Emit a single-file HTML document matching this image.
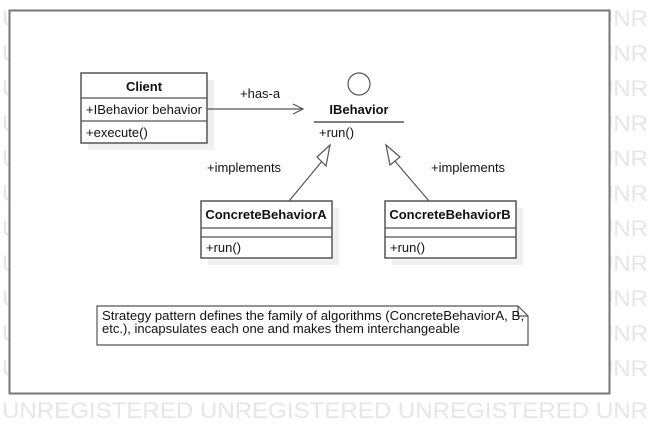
<!DOCTYPE html>
<html><head><style>body{margin:0;background:#fff}svg{display:block}</style></head><body>
<svg width="650" height="434" viewBox="0 0 650 434" xmlns="http://www.w3.org/2000/svg" font-family="Liberation Sans, sans-serif">
<g fill="#e6e6e6" font-size="22">
<text x="2" y="26" textLength="646" lengthAdjust="spacingAndGlyphs">UNREGISTERED UNREGISTERED UNREGISTERED UNR</text>
<text x="2" y="61" textLength="646" lengthAdjust="spacingAndGlyphs">UNREGISTERED UNREGISTERED UNREGISTERED UNR</text>
<text x="2" y="96" textLength="646" lengthAdjust="spacingAndGlyphs">UNREGISTERED UNREGISTERED UNREGISTERED UNR</text>
<text x="2" y="131" textLength="646" lengthAdjust="spacingAndGlyphs">UNREGISTERED UNREGISTERED UNREGISTERED UNR</text>
<text x="2" y="166" textLength="646" lengthAdjust="spacingAndGlyphs">UNREGISTERED UNREGISTERED UNREGISTERED UNR</text>
<text x="2" y="201" textLength="646" lengthAdjust="spacingAndGlyphs">UNREGISTERED UNREGISTERED UNREGISTERED UNR</text>
<text x="2" y="236" textLength="646" lengthAdjust="spacingAndGlyphs">UNREGISTERED UNREGISTERED UNREGISTERED UNR</text>
<text x="2" y="271" textLength="646" lengthAdjust="spacingAndGlyphs">UNREGISTERED UNREGISTERED UNREGISTERED UNR</text>
<text x="2" y="306" textLength="646" lengthAdjust="spacingAndGlyphs">UNREGISTERED UNREGISTERED UNREGISTERED UNR</text>
<text x="2" y="341" textLength="646" lengthAdjust="spacingAndGlyphs">UNREGISTERED UNREGISTERED UNREGISTERED UNR</text>
<text x="2" y="376" textLength="646" lengthAdjust="spacingAndGlyphs">UNREGISTERED UNREGISTERED UNREGISTERED UNR</text>
<text x="2" y="418" textLength="646" lengthAdjust="spacingAndGlyphs">UNREGISTERED UNREGISTERED UNREGISTERED UNR</text>
</g>
<rect x="9.5" y="10.5" width="600" height="383" fill="#fff" stroke="#777" stroke-width="2"/>
<g fill="#f0f0f0">
<rect x="88" y="80" width="126" height="70"/>
<rect x="208" y="208" width="131" height="57"/>
<rect x="392" y="208" width="131" height="57"/>
</g>
<g stroke="#555" fill="none" stroke-width="1.2">
<rect x="81" y="73" width="126" height="70" fill="#fff" stroke-width="1.5"/>
<line x1="81" y1="98" x2="207" y2="98"/><line x1="81" y1="121" x2="207" y2="121"/>
<line x1="207" y1="109" x2="303" y2="109"/>
<polyline points="293,104 303,109 293,114"/>
<circle cx="359" cy="84" r="11"/>
<line x1="314" y1="122" x2="404" y2="122" stroke-width="1.5"/>
<rect x="201" y="201" width="131" height="57" fill="#fff" stroke-width="1.5"/>
<line x1="201" y1="228" x2="332" y2="228"/><line x1="201" y1="237" x2="332" y2="237"/>
<rect x="385" y="201" width="131" height="57" fill="#fff" stroke-width="1.5"/>
<line x1="385" y1="228" x2="516" y2="228"/><line x1="385" y1="237" x2="516" y2="237"/>
<line x1="289" y1="201" x2="323" y2="160"/>
<polygon points="330,145 317,157 326,166" fill="#fff"/>
<line x1="429" y1="201" x2="394" y2="160"/>
<polygon points="386,145 390,165 400,157" fill="#fff"/>
<path d="M97,306 H518 L528,316 V345 H97 Z" fill="#fff"/>
<polyline points="518,306 518,316 528,316"/>
</g>
<g font-size="13" fill="#111">
<text x="144" y="91" font-weight="bold" text-anchor="middle">Client</text>
<text x="86" y="114">+IBehavior behavior</text>
<text x="86" y="137">+execute()</text>
<text x="240" y="98">+has-a</text>
<text x="359" y="114" font-weight="bold" text-anchor="middle">IBehavior</text>
<text x="319" y="137">+run()</text>
<text x="207" y="172">+implements</text>
<text x="431" y="172">+implements</text>
<text x="266" y="219" font-weight="bold" text-anchor="middle">ConcreteBehaviorA</text>
<text x="206" y="252">+run()</text>
<text x="450" y="219" font-weight="bold" text-anchor="middle">ConcreteBehaviorB</text>
<text x="390" y="252">+run()</text>
<text x="102" y="320" textLength="422" lengthAdjust="spacingAndGlyphs">Strategy pattern defines the family of algorithms (ConcreteBehaviorA, B,</text>
<text x="102" y="333" textLength="358" lengthAdjust="spacingAndGlyphs">etc.), incapsulates each one and makes them interchangeable</text>
</g>
</svg>
</body></html>
